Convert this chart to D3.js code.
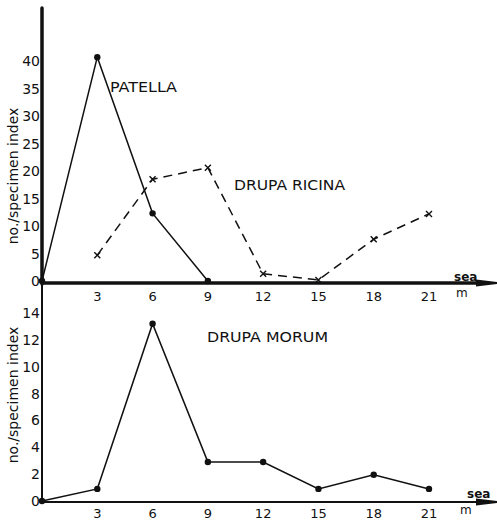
<!DOCTYPE html>
<html><head><meta charset="utf-8">
<script src="https://cdn.jsdelivr.net/npm/d3@7"></script>
<style>
html,body{margin:0;padding:0;background:#fff;}
svg{display:block;}
text{font-family:"DejaVu Sans","Open Sans",sans-serif;fill:#111;}
</style></head>
<body><svg id="c" width="497" height="520"></svg>
<script>
// depth (m)
const depths = [0, 3, 6, 9, 12, 15, 18, 21];
const xTickLabels = [3, 6, 9, 12, 15, 18, 21];
// top panel
const patellaDepths = [0, 3, 6, 9];
const patellaValues = [0, 40.7, 12.3, 0];
const ricinaDepths = [3, 6, 9, 12, 15, 18, 21];
const ricinaValues = [4.7, 18.5, 20.6, 1.3, 0.2, 7.6, 12.2];
const topYTicks = [0, 5, 10, 15, 20, 25, 30, 35, 40];
// bottom panel
const morumDepths = [0, 3, 6, 9, 12, 15, 18, 21];
const morumValues = [0, 0.9, 13.2, 2.9, 2.9, 0.9, 1.95, 0.9];
const bottomYTicks = [0, 2, 4, 6, 8, 10, 12, 14];

const svg = d3.select("#c");
const ink = "#111";

const x = d3.scaleLinear().domain([0, 21]).range([42, 429]);
const yTop = d3.scaleLinear().domain([0, 40]).range([281, 61]);
const yBot = d3.scaleLinear().domain([0, 14]).range([501, 313]);

function panel(y, yTicks, yAxisTop, yAxisW, xAxisY, xAxisW, labelY, xLabY, seaY, mY, seaX, mX) {
  // y tick labels
  svg.append("g").selectAll("text").data(yTicks).join("text")
    .attr("x", 40).attr("y", d => y(d)).attr("dy", "0.36em")
    .attr("text-anchor", "end").attr("font-size", 14).text(d => d);
  // x tick labels
  svg.append("g").selectAll("text").data(xTickLabels).join("text")
    .attr("x", d => x(d)).attr("y", xLabY)
    .attr("text-anchor", "middle").attr("font-size", 13).text(d => d);
  // axes
  svg.append("line").attr("x1", 42).attr("x2", 42).attr("y1", yAxisTop).attr("y2", xAxisY + 1)
    .attr("stroke", ink).attr("stroke-width", yAxisW).attr("stroke-linecap", "round");
  svg.append("line").attr("x1", 41).attr("x2", 480).attr("y1", xAxisY).attr("y2", xAxisY)
    .attr("stroke", ink).attr("stroke-width", xAxisW);
  svg.append("path")
    .attr("d", `M476,${xAxisY - 3.5} L497,${xAxisY - 1} L497,${xAxisY + 1} L476,${xAxisY + 3.5} Z`)
    .attr("fill", ink);
  // axis title
  svg.append("text").attr("transform", `translate(13,${labelY}) rotate(-90)`)
    .attr("text-anchor", "middle").attr("dy", "0.36em").attr("font-size", 14)
    .text("no./specimen index");
  svg.append("text").attr("x", seaX).attr("y", seaY).attr("font-size", 12).attr("font-weight", "bold").text("sea");
  svg.append("text").attr("x", mX).attr("y", mY).attr("font-size", 12).text("m");
}

panel(yTop, topYTicks, 8, 3.5, 283, 3.5, 176, 301, 281, 297, 454, 456);
panel(yBot, bottomYTicks, 285, 2, 502, 2.2, 395, 518, 498, 514, 467, 460);

const line = (y) => d3.line().x(d => x(d[0])).y(d => y(d[1]));

// Patella
const pat = patellaDepths.map((d, i) => [d, patellaValues[i]]);
svg.append("path").attr("d", line(yTop)(pat)).attr("fill", "none")
  .attr("stroke", ink).attr("stroke-width", 1.5);
svg.append("g").selectAll("circle").data(pat).join("circle")
  .attr("cx", d => x(d[0])).attr("cy", d => yTop(d[1])).attr("r", 3.2).attr("fill", ink);

// Drupa ricina
const ric = ricinaDepths.map((d, i) => [d, ricinaValues[i]]);
svg.append("path").attr("d", line(yTop)(ric)).attr("fill", "none")
  .attr("stroke", ink).attr("stroke-width", 1.5).attr("stroke-dasharray", "9,6");
svg.append("g").selectAll("path").data(ric).join("path")
  .attr("transform", d => `translate(${x(d[0])},${yTop(d[1])})`)
  .attr("d", "M-3,-3L3,3M-3,3L3,-3").attr("stroke", ink).attr("stroke-width", 1.4);

// Drupa morum
const mor = morumDepths.map((d, i) => [d, morumValues[i]]);
svg.append("path").attr("d", line(yBot)(mor)).attr("fill", "none")
  .attr("stroke", ink).attr("stroke-width", 1.6);
svg.append("g").selectAll("circle").data(mor).join("circle")
  .attr("cx", d => x(d[0])).attr("cy", d => yBot(d[1])).attr("r", 3.2).attr("fill", ink);

// series labels
svg.append("text").attr("x", 110).attr("y", 92).attr("font-size", 14)
  .attr("textLength", 67).attr("lengthAdjust", "spacingAndGlyphs").text("PATELLA");
svg.append("text").attr("x", 234).attr("y", 190).attr("font-size", 14)
  .attr("textLength", 111).attr("lengthAdjust", "spacingAndGlyphs").text("DRUPA RICINA");
svg.append("text").attr("x", 207).attr("y", 342).attr("font-size", 14)
  .attr("textLength", 121).attr("lengthAdjust", "spacingAndGlyphs").text("DRUPA MORUM");
</script></body></html>
